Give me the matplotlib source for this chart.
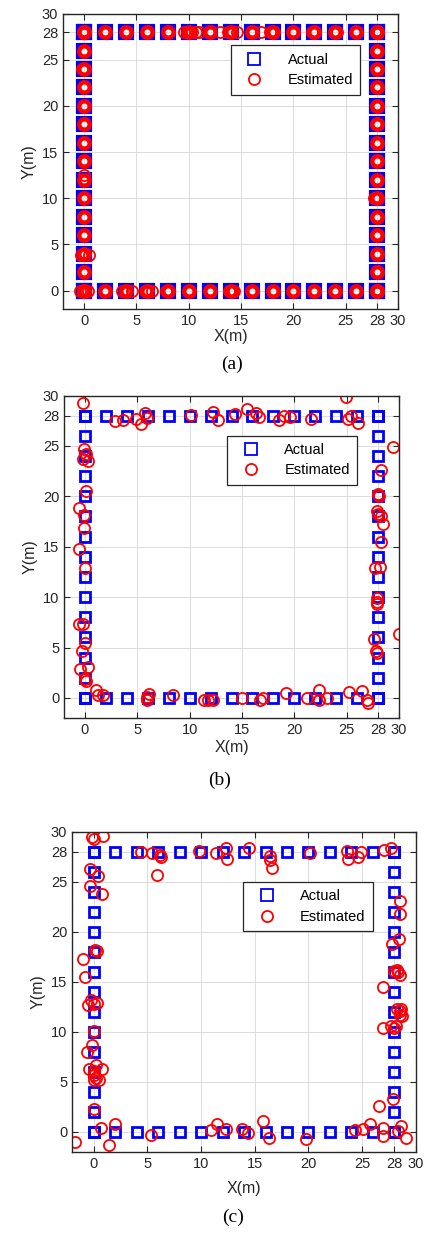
import matplotlib.pyplot as plt
from matplotlib.lines import Line2D

plt.rcParams['font.family'] = ['Liberation Sans', 'DejaVu Sans']

# Actual anchor positions along the perimeter (every 2 m)
side = [0, 2, 4, 6, 8, 10, 12, 14, 16, 18, 20, 22, 24, 26, 28]
actual_x = side + side + [0] * 15 + [28] * 15
actual_y = [0] * 15 + [28] * 15 + side + side

ticks = [0, 5, 10, 15, 20, 25, 28, 30]

# (a) estimates: almost on top of the actual points, plus a few offsets
est_a_extra_x = [9.5, 9.8, 10.3, 10.7, 11.0, 13.0, 13.7, 14.6, 16.9, 17.8, 21.8, 22.1, 24.2,
                 -0.4, 0.4, 3.6, 3.9, 4.6, 5.8, 6.5, 7.8, 13.8, 14.3,
                 0.5, -0.3, 0.0, -0.2, 27.7, 27.9, 28.0]
est_a_extra_y = [28, 28, 28, 28, 28, 28, 28, 28, 28, 28, 28, 28, 28,
                 0, 0, 0, 0, 0, 0, 0, 0, 0, 0,
                 3.9, 3.9, 12.5, 24.0, 10.0, 26.0, 2.1]

# (b) estimates
est_b_x = [-0.2, 2.9, 3.6, 4.9, 5.4, 5.7, 5.9, 10.1, 12.2, 12.7, 14.3, 15.5, 16.3, 16.6,
           18.5, 19.0, 19.6, 21.6, 24.9, 25.1, 25.4, 26.1, 29.4,
           -0.1, 0.1, -0.2, 0.3, 0.1, -0.6, -0.1, -0.1, -0.6, 0.0,
           28.3, 28.0, 28.1, 27.9, 28.0, 28.3, 28.5, 28.3, 27.7, 28.2,
           27.9, 27.9, 27.9, 30.0, 27.6, 27.8, 27.9,
           -0.6, -0.2, 0.0, -0.3, 0.3, -0.5, 0.0, 0.1,
           1.1, 1.2, 1.7, 5.9, 6.1, 5.9, 8.4, 11.4, 11.8, 12.2, 15.0, 16.7, 17.0,
           19.2, 21.2, 22.4, 22.4, 23.1, 25.2, 26.5, 26.9, 27.0]
est_b_y = [29.3, 27.5, 27.6, 27.7, 27.2, 28.3, 27.8, 28.1, 28.4, 27.6, 28.2, 28.7, 28.3, 27.9,
           27.6, 28.0, 27.9, 27.7, 29.9, 27.7, 28.0, 27.3, 24.9,
           24.7, 24.2, 23.7, 23.5, 20.5, 18.8, 18.1, 16.9, 14.8, 12.9,
           22.6, 20.2, 20.0, 18.5, 18.2, 18.0, 17.3, 15.5, 12.9, 13.0,
           9.9, 9.5, 9.3, 6.3, 5.8, 4.7, 4.5,
           7.3, 7.3, 5.5, 4.7, 3.1, 2.9, 1.9, 1.7,
           0.8, 0.3, 0.3, 0.1, 0.4, -0.2, 0.3, -0.2, -0.2, -0.2, 0.0, -0.2, 0.0,
           0.5, 0.0, 0.8, -0.2, 0.0, 0.6, 0.7, -0.2, -0.5]

# (c) estimates
est_c_x = [-0.15, 0.0, 0.9, 4.4, 5.4, 6.2, 6.3, 5.9, 9.8, 11.4, 12.3, 12.4, 14.5,
           16.4, 16.4, 16.6, 20.1, 23.6, 23.7, 24.6, 24.9, 27.0, 27.7,
           -0.3, 0.4, -0.3, 0.8, 0.1, 0.3, -1.0, -0.8, -0.25, -0.5, 0.06, 0.3,
           28.5, 28.5, 28.4, 27.8, 28.2, 28.0, 28.3, 28.5, 26.9, 28.2, 28.6, 28.5,
           28.5, 28.7, 26.9, 27.7, 28.0, 28.1, 26.6, 27.9,
           25.7, 25.1, 24.3, 26.9, 26.9, 28.6, 28.3, 29.1,
           0.06, -0.1, -0.6, -0.4, 0.2, 0.8, 0.0, 0.06, 0.2, 0.5, 0.0, 0.06,
           0.7, 2.0, -1.7, 1.4, 5.3, 10.9, 11.5, 12.3, 13.8, 14.4, 15.8, 16.3, 19.8]
est_c_y = [29.5, 29.3, 29.6, 28.0, 27.9, 27.7, 27.5, 25.7, 28.1, 27.9, 28.4, 27.3, 28.4,
           27.6, 27.2, 26.4, 27.9, 28.1, 27.3, 27.5, 28.0, 28.2, 28.4,
           26.3, 25.6, 24.6, 23.8, 18.2, 18.1, 17.3, 15.5, 13.2, 12.7, 12.8, 12.9,
           23.1, 21.8, 19.3, 18.8, 16.2, 16.1, 16.0, 15.7, 14.5, 12.3, 12.3, 11.7,
           12.1, 11.6, 10.4, 10.6, 10.4, 10.6, 2.6, 3.3,
           0.8, 0.3, 0.2, 0.4, -0.4, 0.6, 0.1, -0.6,
           10.1, 8.7, 8.0, 6.3, 6.7, 6.3, 6.1, 5.7, 5.4, 5.2, 5.2, 2.3,
           0.4, 0.8, -1.0, -1.3, -0.3, 0.2, 0.8, 0.3, 0.3, -0.1, 1.1, -0.6, -0.7]

panel_labels = ['(a)', '(b)', '(c)']

# axes rectangles in figure fraction (left, bottom, width, height)
axes_rects = [[0.149, 0.750, 0.790, 0.239],
              [0.151, 0.419, 0.790, 0.261],
              [0.170, 0.068, 0.811, 0.259]]
legend_anchors = [(0.887, 0.892), (0.875, 0.876), (0.875, 0.844)]
label_y = [0.698, 0.362, 0.008]
label_x = [0.547, 0.519, 0.549]
xlabel_pad = [1, 2, 7]


def style_axes(ax, anchor, xpad):
    ax.set_axisbelow(True)
    ax.set_xlim(-2, 30)
    ax.set_ylim(-2, 30)
    ax.set_xticks(ticks)
    ax.set_yticks(ticks)
    ax.grid(True, color='#dcdcdc', linewidth=0.7)
    ax.tick_params(direction='in', length=4, width=0.8, top=True, right=True,
                   labelsize=10.5, colors='#262626')
    for sp in ax.spines.values():
        sp.set_color('#262626')
        sp.set_linewidth(1.0)
    ax.set_xlabel('X(m)', fontsize=11.5, labelpad=xpad, color='#262626')
    ax.set_ylabel('Y(m)', fontsize=11.5, labelpad=4, color='#262626')
    handles = [Line2D([], [], ls='none', marker='s', color='#0000ff', mfc='none', ms=8, mew=1.3),
               Line2D([], [], ls='none', marker='o', color='#ff0000', mfc='none', ms=8, mew=1.3)]
    leg = ax.legend(handles, ['Actual', 'Estimated'], loc='upper right',
                    bbox_to_anchor=anchor, borderaxespad=0, fontsize=10.5,
                    handlelength=2.2, handletextpad=1.2, borderpad=0.5,
                    labelspacing=0.45, fancybox=False, framealpha=1)
    leg.get_frame().set_edgecolor('#262626')
    leg.get_frame().set_linewidth(0.9)


fig = plt.figure(figsize=(4.24, 12.36), dpi=100)

# (a): many overlapping estimates make thick rings on each anchor
ax = fig.add_axes(axes_rects[0])
ax.plot(actual_x, actual_y, 's', color='#0000ff', mfc='none', ms=9, mew=3.0)
ax.plot(actual_x, actual_y, 'o', color='#ff0000', mfc='none', ms=7.5, mew=3.2)
ax.plot(est_a_extra_x, est_a_extra_y, 'o', color='#ff0000', mfc='none', ms=8, mew=1.3)
style_axes(ax, legend_anchors[0], xlabel_pad[0])

# (b) and (c)
for i, (ex, ey) in enumerate([(est_b_x, est_b_y), (est_c_x, est_c_y)], start=1):
    ax = fig.add_axes(axes_rects[i])
    ax.plot(actual_x, actual_y, 's', color='#0000ff', mfc='none', ms=7.5, mew=2.0)
    ax.plot(ex, ey, 'o', color='#ff0000', mfc='none', ms=8, mew=1.3)
    style_axes(ax, legend_anchors[i], xlabel_pad[i])

for i in range(3):
    fig.text(label_x[i], label_y[i], panel_labels[i], ha='center', va='bottom',
             fontsize=14, family=['Liberation Serif', 'DejaVu Serif'])

fig.savefig('out.png', dpi=100)
